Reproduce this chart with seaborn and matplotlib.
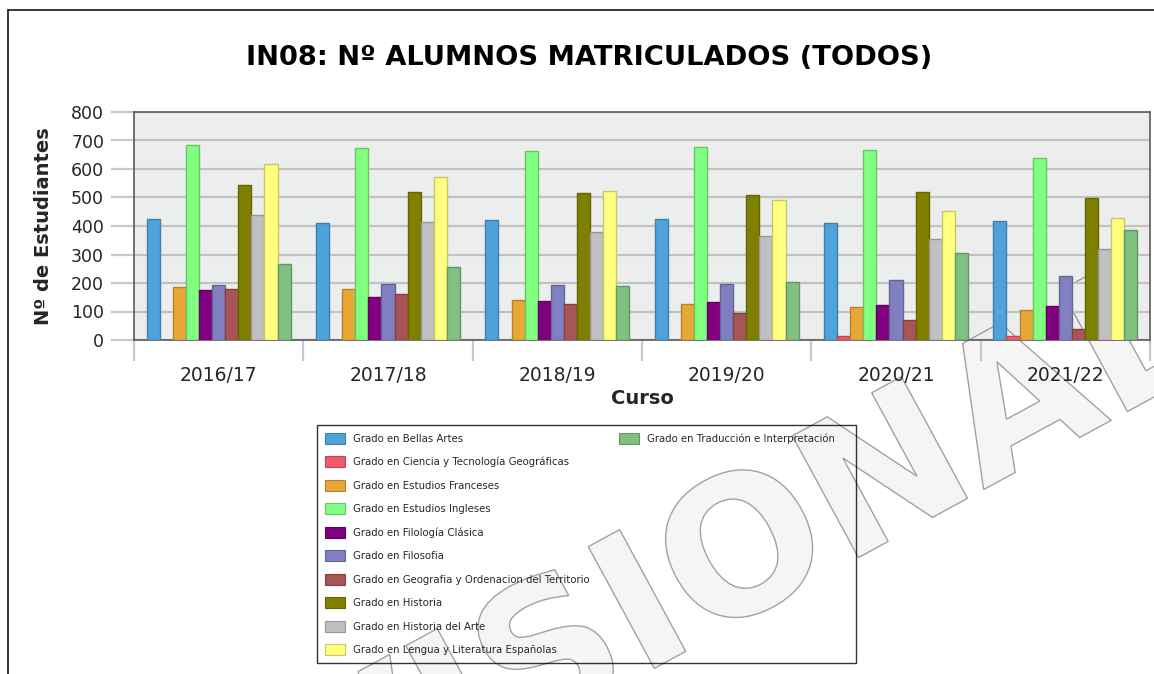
import numpy as np
import pandas as pd
import matplotlib
matplotlib.use("Agg")
import matplotlib.pyplot as plt
import seaborn as sns
from matplotlib.patches import Patch, PathPatch
from matplotlib.lines import Line2D
from matplotlib.textpath import TextPath
from matplotlib.font_manager import FontProperties
from matplotlib.transforms import Affine2D
import matplotlib.colors as mcolors

# ---------------- data ----------------
cursos = ["2016/17", "2017/18", "2018/19", "2019/20", "2020/21", "2021/22"]
grados = [
    "Grado en Bellas Artes",
    "Grado en Ciencia y Tecnología Geográficas",
    "Grado en Estudios Franceses",
    "Grado en Estudios Ingleses",
    "Grado en Filología Clásica",
    "Grado en Filosofia",
    "Grado en Geografia y Ordenacion del Territorio",
    "Grado en Historia",
    "Grado en Historia del Arte",
    "Grado en Lengua y Literatura Españolas",
    "Grado en Traducción e Interpretación",
]
bellas_artes = [423, 410, 420, 426, 410, 419]
ciencia_geo = [np.nan, np.nan, np.nan, np.nan, 14, 14]
estudios_franceses = [186, 178, 142, 128, 116, 107]
estudios_ingleses = [684, 675, 663, 677, 668, 640]
filologia_clasica = [176, 152, 137, 135, 124, 121]
filosofia = [193, 197, 194, 197, 209, 223]
geografia = [179, 162, 127, 96, 71, 39]
historia = [543, 519, 516, 509, 518, 499]
historia_arte = [440, 414, 379, 366, 356, 321]
lengua_literatura = [618, 571, 522, 490, 451, 428]
traduccion = [267, 257, 189, 202, 307, 387]

series = [bellas_artes, ciencia_geo, estudios_franceses, estudios_ingleses,
          filologia_clasica, filosofia, geografia, historia, historia_arte,
          lengua_literatura, traduccion]
colores = ["#4FA3DB", "#F05A6E", "#E8A838", "#80FF80", "#800080", "#8080C0",
           "#A85555", "#808000", "#C0C0C0", "#FFFF80", "#80C080"]
y_ticks = [0, 100, 200, 300, 400, 500, 600, 700, 800]

titulo = "IN08: Nº ALUMNOS MATRICULADOS (TODOS)"
x_titulo = "Curso"
y_titulo = "Nº de Estudiantes"
marca_agua = "PROVISIONAL"

rows = []
for g, vals in zip(grados, series):
    for c, v in zip(cursos, vals):
        if not np.isnan(v):
            rows.append({"Curso": c, "Grado": g, "n": v})
df = pd.DataFrame(rows)

# ---------------- figure ----------------
sns.set_theme(style="white")
plt.rcParams["font.family"] = ["DejaVu Sans"]

W, H = 1154, 674
fig = plt.figure(figsize=(W / 100, H / 100), dpi=100)
fig.patch.set_facecolor("white")

ax = fig.add_axes([134 / W, 1 - 340 / H, (1150 - 134) / W, (340 - 112) / H])
ax.set_facecolor("#ECEEEE")

sns.barplot(data=df, x="Curso", y="n", hue="Grado", order=cursos,
            hue_order=grados, palette=colores, saturation=1, width=0.85,
            errorbar=None, linewidth=1, legend=False, ax=ax, zorder=3)

def darker(c, f=0.78):
    r, g, b = mcolors.to_rgb(c)
    return (r * f, g * f, b * f)

for cont, col in zip(ax.containers, colores):
    for bar in cont:
        bar.set_edgecolor(darker(col))
        bar.set_linewidth(1.0)

ax.set_ylim(0, 800)
ax.set_xlim(-0.5, len(cursos) - 0.5)
ax.set_autoscale_on(False)
ax.set_yticks(y_ticks)
ax.set_yticklabels([str(t) for t in y_ticks], fontsize=12.5)
ax.yaxis.grid(True, color="#C2C2C2", linewidth=1.6, zorder=0)
ax.set_axisbelow(True)
ax.tick_params(axis="y", which="major", length=16.5, width=1.6,
               color="#C8C8C8", pad=5, left=True)

bounds = np.arange(-0.5, len(cursos), 1.0)
ax.set_xticks(bounds)
ax.set_xticklabels([""] * len(bounds))
ax.set_xticks(range(len(cursos)), minor=True)
ax.set_xticklabels(cursos, minor=True, fontsize=13.5)
ax.tick_params(axis="x", which="major", length=15, width=1.6,
               color="#C8C8C8", bottom=True)
ax.tick_params(axis="x", which="minor", length=0, pad=19)

for s in ax.spines.values():
    s.set_visible(True)
    s.set_color("#5A5A5A")
    s.set_linewidth(1.2)

ax.set_xlabel("")
ax.set_ylabel("")

fig.text(589 / W, 1 - 58 / H, titulo, ha="center", va="center",
         fontsize=19.7, fontweight="bold", color="black")
fig.text(44 / W, 1 - 226 / H, y_titulo, ha="center", va="center",
         rotation=90, fontsize=14, fontweight="bold")
fig.text(642 / W, 1 - 398 / H, x_titulo, ha="center", va="center",
         fontsize=14, fontweight="bold")

# watermark (behind bars and axis labels, not clipped to the axes)
fp = FontProperties(family="DejaVu Sans", weight="bold")
F = 190
tp = TextPath((0, 0), marca_agua, size=F, prop=fp)
pre = TextPath((0, 0), marca_agua[:7], size=F, prop=fp).get_extents().x1
wI = TextPath((0, 0), "I", size=F, prop=fp).get_extents().width
xc = pre - wI / 2
yc = 0.729 * F / 2
tr = Affine2D().translate(-xc, -yc).rotate_deg(28.5).translate(637, H - 599)
wm = PathPatch(tp, transform=tr, facecolor=(0.93, 0.93, 0.93, 0.55),
               edgecolor=(0.55, 0.55, 0.55, 0.8), linewidth=1.0, zorder=0.4)
ax.add_artist(wm)
wm.set_clip_on(False)

# legend: 10 rows in first column, 1 in second
handles = [Patch(facecolor=c, edgecolor=darker(c), linewidth=0.8) for c in colores]
labels = list(grados)
for i in range(9):
    handles.append(Patch(facecolor="none", edgecolor="none"))
    labels.append("\u00a0" * 62 if i == 0 else "")
leg = fig.legend(handles, labels, loc="upper left",
                 bbox_to_anchor=(317 / W, 1 - 425 / H), ncol=2,
                 frameon=True, fancybox=False, fontsize=7.3,
                 borderpad=0.75, labelspacing=1.23, handlelength=1.97,
                 handleheight=1.3, handletextpad=0.8, columnspacing=2.9,
                 borderaxespad=0)
leg.get_frame().set_edgecolor("black")
leg.get_frame().set_facecolor("none")
leg.get_frame().set_linewidth(1.0)

# outer frame lines
fig.add_artist(Line2D([8 / W, 8 / W], [0, 1 - 10 / H], color="black", lw=1.1))
fig.add_artist(Line2D([8 / W, 1], [1 - 10 / H, 1 - 10 / H], color="black", lw=1.1))

fig.savefig("out.png", dpi=100, facecolor="white")
